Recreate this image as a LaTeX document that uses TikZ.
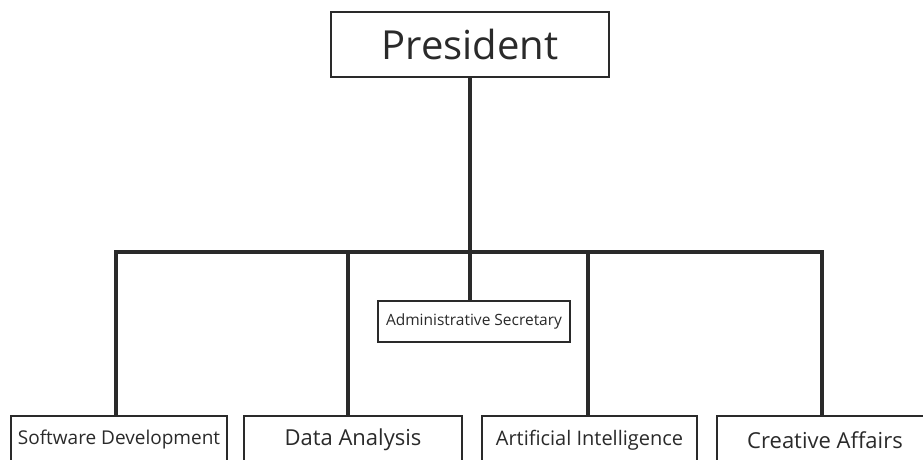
\documentclass[tikz,border=0pt]{standalone}
\usepackage{fontspec}
\setmainfont{Open Sans}
\definecolor{ink}{HTML}{2A2A2A}
\tikzset{
  box/.style={draw=ink, line width=2pt, fill=white, inner sep=0pt, text=ink},
  conn/.style={draw=ink, line width=3.6pt},
}
\begin{document}
\begin{tikzpicture}[x=1pt,y=-1pt]
\useasboundingbox (0,0) rectangle (923,459);
\clip (0,0) rectangle (923,459);
\fill[white] (0,0) rectangle (923,459);
% coordinates of the bus
\coordinate (j) at (470,252);
\coordinate (b1) at (116,252);
\coordinate (b2) at (348,252);
\coordinate (b3) at (588,252);
\coordinate (b4) at (822,252);
% connectors (drawn first, boxes on top)
\draw[conn] (470,77) -- (j);
\draw[conn, line cap=rect] (b1) -- (b4);
\draw[conn] (b1) -- (116,417);
\draw[conn] (b2) -- (348,417);
\draw[conn] (b3) -- (588,417);
\draw[conn] (b4) -- (822,417);
\draw[conn] (j) -- (470,302);
% nodes
\node[box, minimum width=278pt, minimum height=65pt, font=\fontsize{40}{48}\selectfont] (pres) at (470,44.5) {President};
\node[box, minimum width=192pt, minimum height=41pt, font=\fontsize{15.5}{18}\selectfont] (admin) at (474,321.5) {Administrative Secretary};
\node[box, minimum width=216pt, minimum height=48pt, font=\fontsize{19}{23}\selectfont] (sw) at (119,440) {Software Development};
\node[box, minimum width=218pt, minimum height=48pt, font=\fontsize{22}{26}\selectfont] (da) at (353,440) {Data Analysis};
\node[box, minimum width=215pt, minimum height=48pt, font=\fontsize{20}{24}\selectfont] (ai) at (589.5,440) {Artificial Intelligence};
\node[box, minimum width=216pt, minimum height=48pt, font=\fontsize{22}{26}\selectfont] (ca) at (825,440) {Creative Affairs};
\end{tikzpicture}
\end{document}
